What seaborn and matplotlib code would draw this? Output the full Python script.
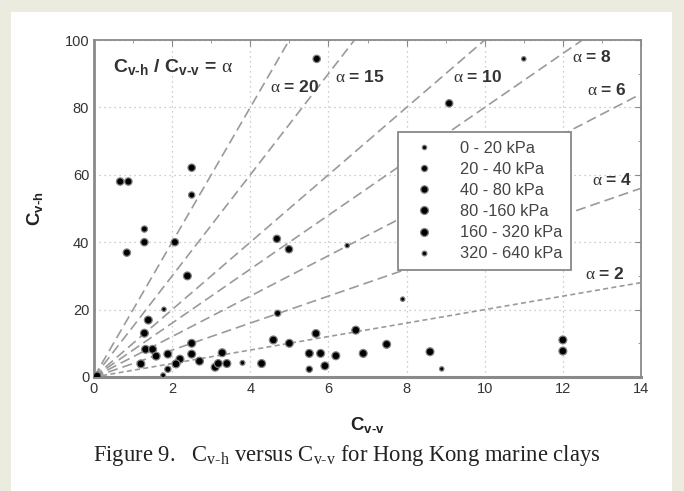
import numpy as np
import pandas as pd
import matplotlib
matplotlib.use("Agg")
import matplotlib.pyplot as plt
from matplotlib.patches import Rectangle
import seaborn as sns

# data (Cv-v, Cv-h) per consolidation pressure range
groups = ["0 - 20 kPa", "20 - 40 kPa", "40 - 80 kPa", "80 -160 kPa", "160 - 320 kPa", "320 - 640 kPa"]

cvv_0_20 = [11.0, 7.9, 6.48, 1.79, 8.9]
cvh_0_20 = [94.4, 23.1, 39.0, 20.1, 2.4]

cvv_20_40 = [2.5, 4.7, 1.29, 5.51, 1.89]
cvh_20_40 = [54.0, 18.9, 43.9, 2.3, 2.3]

cvv_40_80 = [0.67, 0.88, 0.84, 1.29, 2.07, 2.5, 5.7, 4.68, 4.99, 9.09]
cvh_40_80 = [58.0, 58.0, 36.9, 40.0, 40.0, 62.1, 94.4, 41.0, 37.9, 81.2]

cvv_80_160 = [1.39, 1.29, 1.32, 1.5, 1.59, 1.89, 2.5, 2.5, 1.2, 2.2, 2.1, 2.7]
cvh_80_160 = [16.9, 13.0, 8.2, 8.2, 6.2, 6.8, 10.0, 6.8, 3.9, 5.3, 3.9, 4.7]

cvv_160_320 = [0.08, 2.39, 3.28, 3.1, 3.18, 3.4, 4.29, 4.59, 5.0, 5.51, 5.68, 5.8, 5.91, 6.19, 6.7, 6.89, 7.49, 8.6, 12.0, 12.0]
cvh_160_320 = [0.3, 30.0, 7.2, 2.9, 4.0, 4.0, 4.0, 11.0, 10.0, 7.0, 12.9, 7.0, 3.3, 6.3, 13.9, 7.0, 9.7, 7.5, 11.0, 7.7]

cvv_320_640 = [1.77, 3.8]
cvh_320_640 = [0.5, 4.2]

alphas = [20, 15, 10, 8, 6, 4, 2]
alpha_label_x = [5.14, 6.8, 9.83, 12.75, 13.13, 13.26, 13.08]
alpha_label_y = [86.1, 89.1, 89.1, 95.0, 85.2, 58.5, 30.6]

xs = [cvv_0_20, cvv_20_40, cvv_40_80, cvv_80_160, cvv_160_320, cvv_320_640]
ys = [cvh_0_20, cvh_20_40, cvh_40_80, cvh_80_160, cvh_160_320, cvh_320_640]
df = pd.concat([pd.DataFrame({"cvv": x, "cvh": y, "group": g}) for x, y, g in zip(xs, ys, groups)],
               ignore_index=True)

sns.set_style("white")
plt.rcParams["font.family"] = ["Liberation Sans", "DejaVu Sans"]
plt.rcParams["mathtext.fontset"] = "custom"
plt.rcParams["mathtext.rm"] = "Liberation Serif"
plt.rcParams["mathtext.it"] = "Liberation Serif:italic"
plt.rcParams["mathtext.bf"] = "Liberation Sans:bold"

fig = plt.figure(figsize=(6.84, 4.91), dpi=100, facecolor="#ecebdf")
fig.patches.append(Rectangle((11 / 684, 0), (672 - 11) / 684, 1 - 12 / 491,
                             transform=fig.transFigure, facecolor="white", edgecolor="none", zorder=-5))
ax = fig.add_axes([94 / 684, 1 - 377 / 491, (641 - 94) / 684, (377 - 40) / 491])
ax.set_zorder(2)
ax.patch.set_alpha(0)

# ratio lines
for a in alphas:
    dash = (3, 2) if a == 2 else (6, 3)
    ax.plot([0, 14], [0, 14 * a], color="#9a9a9a", lw=1.2, dashes=dash, zorder=1)
for a, lx, ly in zip(alphas, alpha_label_x, alpha_label_y):
    ax.text(lx, ly, f"$\\mathrm{{α}}$ = {a}", ha="center", va="center", fontsize=12.5,
            fontweight="bold", color="#333333")

sizes = {"0 - 20 kPa": 10, "20 - 40 kPa": 20, "40 - 80 kPa": 28, "80 -160 kPa": 32,
         "160 - 320 kPa": 32, "320 - 640 kPa": 12}
sns.scatterplot(data=df, x="cvv", y="cvh", hue="group", size="group", sizes=sizes,
                hue_order=groups, size_order=groups, palette=["black"] * 6,
                edgecolor="#808080", linewidth=0.9, ax=ax, zorder=3)

ax.set_xlim(0, 14)
ax.set_ylim(0, 100)
ax.set_xticks(np.arange(0, 15, 2))
ax.set_yticks(np.arange(0, 101, 20))
ax.set_xticks(np.arange(0, 15, 1), minor=True)
ax.set_yticks(np.arange(0, 101, 10), minor=True)
ax.grid(True, which="major", color="#bdbdbd", lw=0.9, linestyle=(0, (1, 3)))
ax.tick_params(which="both", direction="in", top=True, right=True, color="#888888",
               labelsize=10.5, labelcolor="#333333")
ax.tick_params(which="major", length=4)
ax.tick_params(which="minor", length=2)
for s in ax.spines.values():
    s.set_color("#8a8a8a")
    s.set_linewidth(1.3)
ax.spines["left"].set_linewidth(2)
ax.spines["bottom"].set_linewidth(2.2)

ax.set_xlabel("$\\mathbf{C_{v\u2010v}}$", fontsize=13.5, labelpad=14, color="#222222")
ax.set_ylabel("$\\mathbf{C_{v\u2010h}}$", fontsize=13.5, labelpad=14, color="#222222")
ax.text(0.49, 92, "$\\mathbf{C_{v\u2010h}}$ / $\\mathbf{C_{v\u2010v}}$ = $\\mathrm{α}$", fontsize=14,
        fontweight="bold", va="center", color="#333333")

handles, labels = ax.get_legend_handles_labels()
leg = ax.legend(handles, labels, loc="upper left", bbox_to_anchor=(0.556, 0.727), borderaxespad=0,
                frameon=True, fancybox=False, framealpha=1, edgecolor="#888888", fontsize=11.8,
                labelspacing=0.37, handletextpad=1.2, borderpad=0.55, title=None)
leg.get_frame().set_linewidth(1.3)
for t in leg.get_texts():
    t.set_color("#444444")

fig.text(93 / 684, 1 - 456 / 491,
         "Figure 9.   C$_{\\mathrm{v\u2010h}}$ versus C$_{\\mathrm{v\u2010v}}$ for Hong Kong marine clays",
         family="Liberation Serif", fontsize=16.3, color="#222222", va="center", ha="left")

fig.savefig("out.png", dpi=100, facecolor=fig.get_facecolor())
